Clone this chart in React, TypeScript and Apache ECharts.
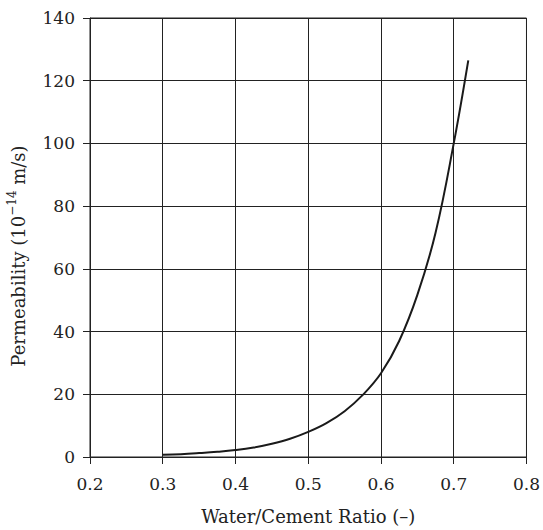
import React, { useEffect, useRef } from "react";
import * as echarts from "echarts";

const ratio = [0.3, 0.325, 0.35, 0.375, 0.4, 0.425, 0.45, 0.475, 0.5, 0.525, 0.55, 0.575, 0.6, 0.625, 0.65, 0.675, 0.7, 0.72];
const permeability = [0.7, 0.9, 1.24, 1.65, 2.2, 3.0, 4.2, 5.8, 8.0, 10.8, 14.6, 19.8, 26.7, 37, 51.7, 71.5, 100, 126.5];

const xTicks = { min: 0.2, max: 0.8, interval: 0.1 };
const yTicks = { min: 0, max: 140, interval: 20 };

const FONT = "'DejaVu Serif', 'Liberation Serif', serif";
const INK = "#222";

export default function App() {
  const ref = useRef<HTMLDivElement>(null);
  useEffect(() => {
    if (!ref.current) return;
    const chart = echarts.init(ref.current, undefined, { renderer: "svg" });
    chart.setOption({
      animation: false,
      backgroundColor: "#fff",
      grid: {
        left: 90,
        right: 13,
        top: 18,
        bottom: 68,
        show: true,
        borderColor: INK,
        borderWidth: 1,
      },
      graphic: [
        {
          type: "text",
          x: 18,
          y: 256,
          rotation: Math.PI / 2,
          style: {
            text: "Permeability (10{sup|−14} m/s)",
            fontFamily: FONT,
            fontSize: 18,
            fill: INK,
            align: "center",
            verticalAlign: "middle",
            rich: {
              sup: { fontFamily: FONT, fontSize: 12, fill: INK, padding: [0, 0, 12, 0] },
            },
          },
        },
      ],
      xAxis: {
        type: "value",
        min: xTicks.min,
        max: xTicks.max,
        interval: xTicks.interval,
        name: "Water/Cement Ratio (–)",
        nameLocation: "middle",
        nameGap: 50,
        nameTextStyle: { fontFamily: FONT, fontSize: 18, color: INK },
        axisLine: { show: true, onZero: false, lineStyle: { color: INK, width: 1 } },
        axisTick: { show: true, length: 7, lineStyle: { color: INK, width: 1 } },
        axisLabel: {
          fontFamily: FONT,
          fontSize: 17,
          color: INK,
          margin: 18,
          formatter: (v: number) => v.toFixed(1),
        },
        splitLine: { show: true, lineStyle: { color: INK, width: 1 } },
      },
      yAxis: {
        type: "value",
        min: yTicks.min,
        max: yTicks.max,
        interval: yTicks.interval,
        axisLine: { show: true, lineStyle: { color: INK, width: 1 } },
        axisTick: { show: true, length: 7, lineStyle: { color: INK, width: 1 } },
        axisLabel: { fontFamily: FONT, fontSize: 17, color: INK, margin: 15 },
        splitLine: { show: true, lineStyle: { color: INK, width: 1 } },
      },
      series: [
        {
          type: "line",
          data: ratio.map((r, i) => [r, permeability[i]]),
          smooth: 0.4,
          showSymbol: false,
          symbol: "none",
          lineStyle: { color: "#1a1a1a", width: 2 },
        },
      ],
    });
    return () => chart.dispose();
  }, []);
  return (
    <div
      ref={ref}
      style={{ position: "fixed", left: 0, top: 0, width: 543, height: 530 }}
    />
  );
}
